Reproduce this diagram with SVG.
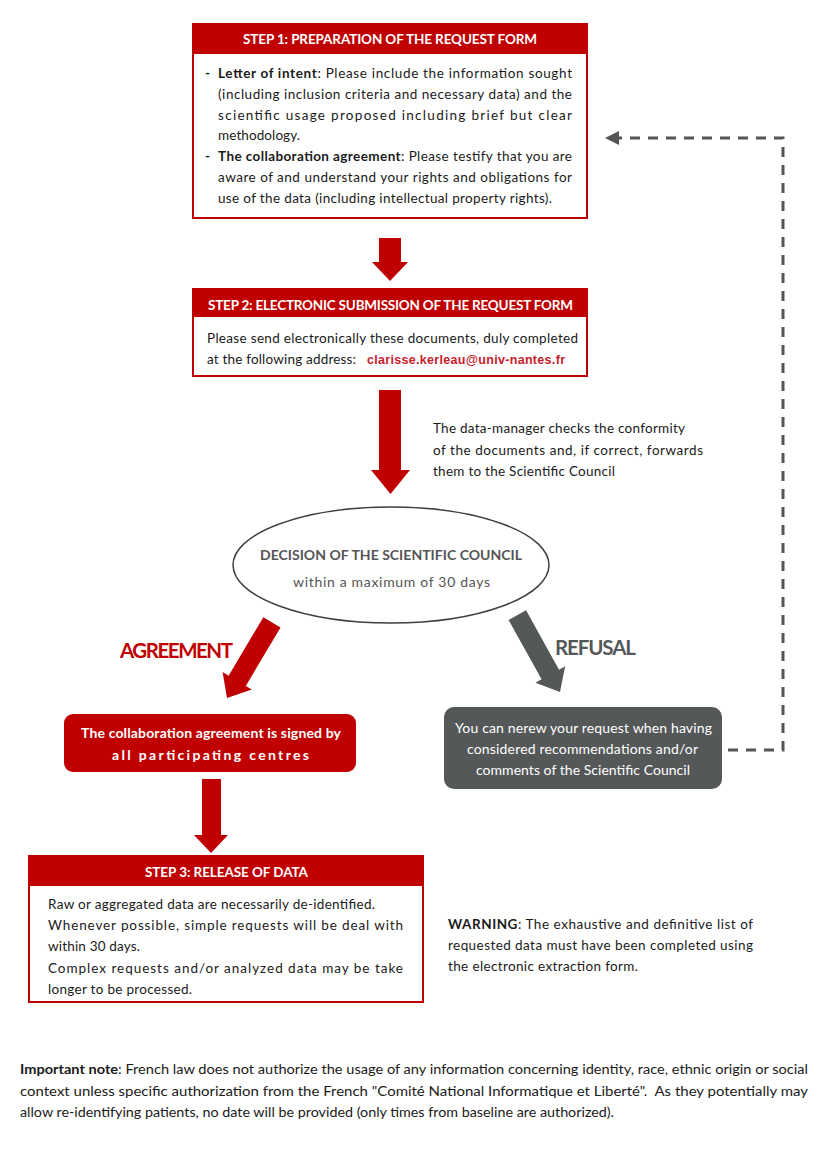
<svg xmlns="http://www.w3.org/2000/svg" width="826" height="1169" viewBox="0 0 826 1169">
<defs>
<style>
.bg{fill:#ffffff}
.box{fill:#ffffff;stroke:#C00000;stroke-width:2}
.hdr{fill:#C00000}
.ht{font-family:Lato,'Open Sans','Liberation Sans',sans-serif;font-size:13.5px;font-weight:bold;fill:#ffffff}
.bt{font-family:Lato,'Open Sans','Liberation Sans',sans-serif;font-size:13.5px;fill:#1a1a1a}
.b{font-weight:bold}
.mail{font-family:'Liberation Sans',Arial,sans-serif;font-size:12.5px;font-weight:bold;fill:#C8202A}
.ell{fill:#ffffff;stroke:#404040;stroke-width:1.5}
.et{font-family:Lato,'Open Sans','Liberation Sans',sans-serif;font-size:14px;fill:#555555}
.lbl{font-family:Lato,'Open Sans','Liberation Sans',sans-serif;font-size:20.5px;font-weight:bold}
.wt{font-family:Lato,'Open Sans','Liberation Sans',sans-serif;font-size:14px;fill:#ffffff}
.red{fill:#C00000}
.gray{fill:#555859}
.dash{fill:none;stroke:#555555;stroke-width:3;stroke-dasharray:10 8}
.note{font-family:Lato,'Open Sans','Liberation Sans',sans-serif;font-size:13.5px;fill:#1a1a1a}
</style>
<marker id="ah" markerUnits="userSpaceOnUse" markerWidth="14" markerHeight="14" refX="7" refY="7" orient="auto">
<path d="M0,0 L14,7 L0,14 z" fill="#555555"/>
</marker>
</defs>
<rect class="bg" x="0" y="0" width="826" height="1169"/>

<g id="connectors">
<polygon class="red" points="379,238 401,238 401,262 408,262 390,281 372,262 379,262"/>
<polygon class="red" points="379,390 401,390 401,470 410,470 390.5,494 371,470 379,470"/>
<polygon class="red" points="-10,-88 10,-88 10,-20 17,-20 0,0 -17,-20 -10,-20" transform="translate(227,698) rotate(30.7)"/>
<polygon class="gray" points="-10,-88 10,-88 10,-20 17,-20 0,0 -17,-20 -10,-20" transform="translate(560,692) rotate(-29)"/>
<polygon class="red" points="202,779 221,779 221,835 228,835 211,853 194,835 202,835"/>
<path class="dash" d="M728,750 H783 V138 H612" marker-end="url(#ah)"/>
</g>

<g id="step1">
<rect class="box" x="193" y="24" width="394" height="194"/>
<rect class="hdr" x="193" y="24" width="394" height="30"/>
<text class="ht" x="243" y="44" textLength="294" lengthAdjust="spacing">STEP 1: PREPARATION OF THE REQUEST FORM</text>
<text class="bt b" x="205" y="78">-</text>
<text class="bt" x="218" y="78" textLength="354" lengthAdjust="spacing"><tspan class="b">Letter of intent</tspan>: Please include the information sought</text>
<text class="bt" x="218" y="98.8" textLength="354" lengthAdjust="spacing">(including inclusion criteria and necessary data) and the</text>
<text class="bt" x="218" y="119.6" textLength="354" lengthAdjust="spacing">scientific usage proposed including brief but clear</text>
<text class="bt" x="218" y="140.4" textLength="82" lengthAdjust="spacing">methodology.</text>
<text class="bt b" x="205" y="161.2">-</text>
<text class="bt" x="218" y="161.2" textLength="354" lengthAdjust="spacing"><tspan class="b">The collaboration agreement</tspan>: Please testify that you are</text>
<text class="bt" x="218" y="182" textLength="354" lengthAdjust="spacing">aware of and understand your rights and obligations for</text>
<text class="bt" x="218" y="202.8" textLength="334" lengthAdjust="spacing">use of the data (including intellectual property rights).</text>
</g>

<g id="step2">
<rect class="box" x="193" y="289" width="394" height="87"/>
<rect class="hdr" x="193" y="289" width="394" height="28"/>
<text class="ht" x="208" y="310" textLength="365" lengthAdjust="spacing">STEP 2: ELECTRONIC SUBMISSION OF THE REQUEST FORM</text>
<text class="bt" x="207" y="343" textLength="371" lengthAdjust="spacing">Please send electronically these documents, duly completed</text>
<text class="bt" x="207" y="364" textLength="149" lengthAdjust="spacing">at the following address:</text>
<text class="mail" x="367" y="364" textLength="198" lengthAdjust="spacing">clarisse.kerleau@univ-nantes.fr</text>
</g>

<g id="check-note">
<text class="bt" x="433" y="433" textLength="252" lengthAdjust="spacing">The data-manager checks the conformity</text>
<text class="bt" x="433" y="455" textLength="270" lengthAdjust="spacing">of the documents and, if correct, forwards</text>
<text class="bt" x="433" y="476" textLength="182" lengthAdjust="spacing">them to the Scientific Council</text>
</g>

<g id="decision">
<ellipse class="ell" cx="391" cy="565" rx="158" ry="58"/>
<text class="et b" x="260" y="560" textLength="262" lengthAdjust="spacing">DECISION OF THE SCIENTIFIC COUNCIL</text>
<text class="et" x="293" y="587" textLength="197" lengthAdjust="spacing">within a maximum of 30 days</text>
</g>

<g id="agreement-label">
<text class="lbl red" x="120" y="658" textLength="113" lengthAdjust="spacing">AGREEMENT</text>
</g>
<g id="refusal-label">
<text class="lbl gray" x="555" y="655" textLength="81" lengthAdjust="spacing">REFUSAL</text>
</g>

<g id="agreement">
<rect class="red" x="64" y="714" width="292" height="58" rx="9"/>
<text class="wt b" x="81" y="738" textLength="260" lengthAdjust="spacing">The collaboration agreement is signed by</text>
<text class="wt b" x="112" y="760" textLength="197" lengthAdjust="spacing">all participating centres</text>
</g>

<g id="refusal">
<rect class="gray" x="444" y="707" width="278" height="82" rx="10"/>
<text class="wt" x="455" y="733" textLength="257" lengthAdjust="spacing">You can nerew your request when having</text>
<text class="wt" x="467" y="754" textLength="231" lengthAdjust="spacing">considered recommendations and/or</text>
<text class="wt" x="476" y="775" textLength="214" lengthAdjust="spacing">comments of the Scientific Council</text>
</g>

<g id="step3">
<rect class="box" x="29" y="856" width="394" height="146"/>
<rect class="hdr" x="29" y="856" width="394" height="30"/>
<text class="ht" x="145" y="877" textLength="163" lengthAdjust="spacing">STEP 3: RELEASE OF DATA</text>
<text class="bt" x="48" y="909" textLength="327" lengthAdjust="spacing">Raw or aggregated data are necessarily de-identified.</text>
<text class="bt" x="48" y="930" textLength="355" lengthAdjust="spacing">Whenever possible, simple requests will be deal with</text>
<text class="bt" x="48" y="951" textLength="92" lengthAdjust="spacing">within 30 days.</text>
<text class="bt" x="48" y="973" textLength="355" lengthAdjust="spacing">Complex requests and/or analyzed data may be take</text>
<text class="bt" x="48" y="994" textLength="144" lengthAdjust="spacing">longer to be processed.</text>
</g>

<g id="warning">
<text class="bt" x="448" y="929" textLength="305" lengthAdjust="spacing"><tspan class="b">WARNING</tspan>: The exhaustive and definitive list of</text>
<text class="bt" x="448" y="950" textLength="305" lengthAdjust="spacing">requested data must have been completed using</text>
<text class="bt" x="448" y="971" textLength="190" lengthAdjust="spacing">the electronic extraction form.</text>
</g>

<g id="important-note">
<text class="note" x="20" y="1074" textLength="788" lengthAdjust="spacingAndGlyphs"><tspan class="b">Important note</tspan>: French law does not authorize the usage of any information concerning identity, race, ethnic origin or social</text>
<text class="note" x="20" y="1096" textLength="788" lengthAdjust="spacingAndGlyphs" xml:space="preserve">context unless specific authorization from the French "Comité National Informatique et Liberté".  As they potentially may</text>
<text class="note" x="20" y="1117" textLength="594" lengthAdjust="spacingAndGlyphs">allow re-identifying patients, no date will be provided (only times from baseline are authorized).</text>
</g>
</svg>
